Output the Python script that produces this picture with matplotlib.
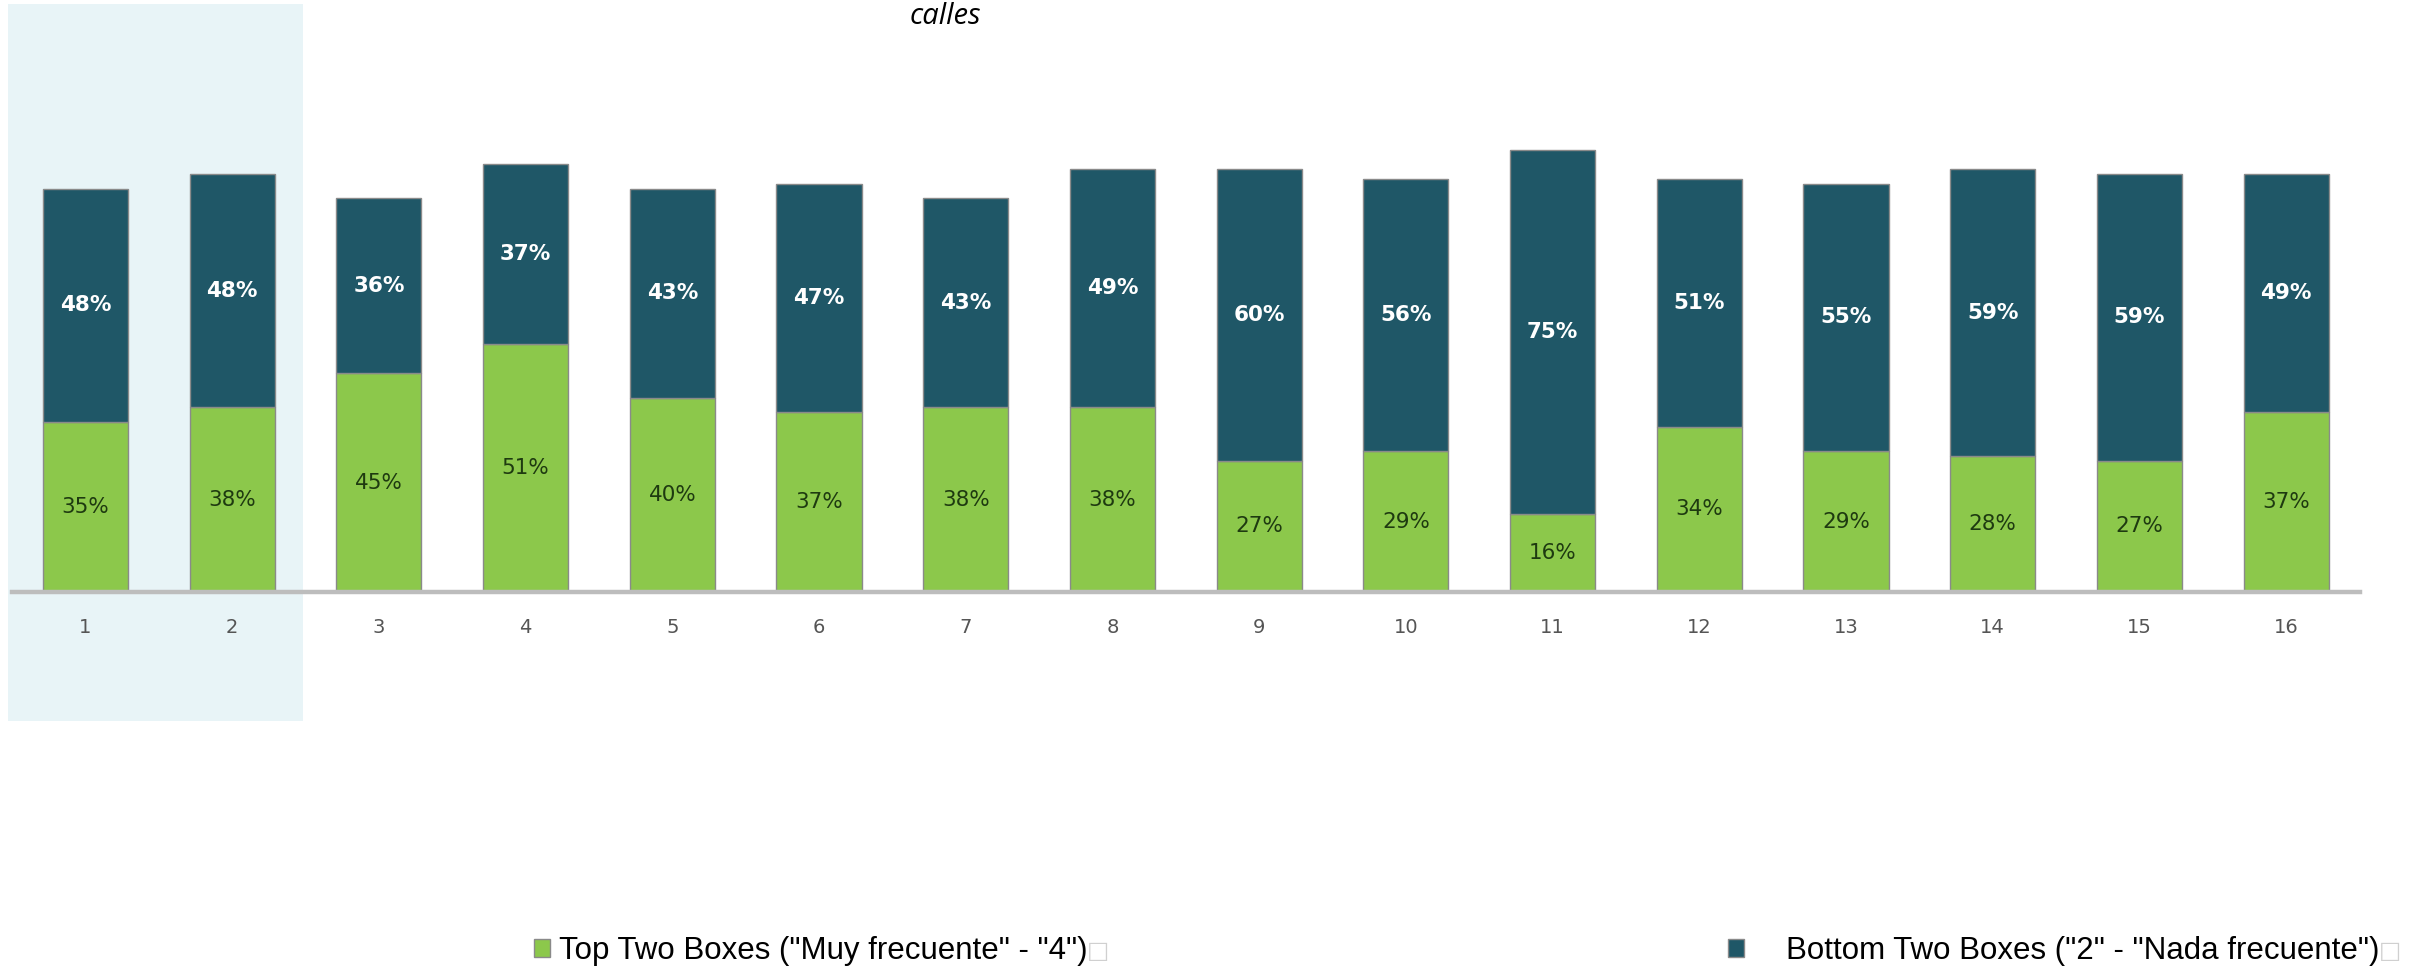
import matplotlib
matplotlib.use('Agg')
import matplotlib.pyplot as plt
import matplotlib.patches as mpatches

# datos
categorias = ['1', '2', '3', '4', '5', '6', '7', '8', '9', '10', '11', '12', '13', '14', '15', '16']
top_two = [35, 38, 45, 51, 40, 37, 38, 38, 27, 29, 16, 34, 29, 28, 27, 37]
bottom_two = [48, 48, 36, 37, 43, 47, 43, 49, 60, 56, 75, 51, 55, 59, 59, 49]
etiqueta_top = 'Top Two Boxes ("Muy frecuente" - "4")'
etiqueta_bottom = 'Bottom Two Boxes ("2" - "Nada frecuente")'
titulo = 'calles'

verde = '#8cc84b'
azul = '#1f5767'
fuente_leyenda = {'family': ['Liberation Sans', 'DejaVu Sans'], 'size': 22.5}

fig = plt.figure(figsize=(24.25, 9.73), dpi=100)
ax = fig.add_axes([0.005, 0.3916, 0.968, 0.4995])

x = list(range(1, len(categorias) + 1))

# zona resaltada (categorias 1 y 2)
fondo = mpatches.Rectangle((0.47, -26.5), 2.01, 147.5, facecolor='#e8f4f7',
                           edgecolor='none', clip_on=False, zorder=0)
ax.add_patch(fondo)

b1 = ax.bar(x, top_two, width=0.58, color=verde, edgecolor='#8a8a8a', linewidth=1, zorder=2)
b2 = ax.bar(x, bottom_two, width=0.58, bottom=top_two, color=azul, edgecolor='#8a8a8a',
            linewidth=1, zorder=2)

for i in range(len(x)):
    ax.text(x[i], top_two[i] / 2, '{}%'.format(top_two[i]), ha='center', va='center',
            fontsize=15.5, color='#1e3a10', zorder=3)
    ax.text(x[i], top_two[i] + bottom_two[i] / 2, '{}%'.format(bottom_two[i]), ha='center',
            va='center', fontsize=15.5, color='white', fontweight='bold', zorder=3)

ax.set_xlim(0.5, 16.5)
ax.set_ylim(0, 100)
ax.set_xticks(x)
ax.set_xticklabels(categorias, fontsize=14, color='#555555')
ax.tick_params(axis='x', length=0, pad=19)
ax.set_yticks([])
for s in ['top', 'right', 'left']:
    ax.spines[s].set_visible(False)
ax.spines['bottom'].set_color('#bdbdbd')
ax.spines['bottom'].set_linewidth(3.2)
ax.patch.set_alpha(0)

fig.text(945 / 2425, 1 - 2 / 973, titulo, ha='center', va='top', fontsize=21,
         style='italic', family=['Open Sans', 'DejaVu Sans'])

y_ley = 1 - 951 / 973
leg1 = fig.legend([b1], [etiqueta_top], loc='center left',
                  bbox_to_anchor=(534 / 2425, y_ley), frameon=False,
                  borderpad=0, borderaxespad=0,
                  handlelength=0.5, handleheight=0.5, handletextpad=0.3,
                  prop=fuente_leyenda)
leg2 = fig.legend([b2], [etiqueta_bottom], loc='center left',
                  bbox_to_anchor=(1728 / 2425, y_ley), frameon=False,
                  borderpad=0, borderaxespad=0,
                  handlelength=0.5, handleheight=0.5, handletextpad=1.37,
                  prop=fuente_leyenda)

# cuadrito gris al final de cada texto de la leyenda
fig.canvas.draw()
r = fig.canvas.get_renderer()
for leg in [leg1, leg2]:
    bb = leg.get_texts()[0].get_window_extent(r)
    fig.text((bb.x1 - 1) / 2425, (bb.y0 + bb.y1) / 2 / 973, '\u25a1', ha='left', va='center',
             color='#d0d0d0', fontsize=17, family=['DejaVu Sans'])

plt.savefig('out.png', dpi=100)
